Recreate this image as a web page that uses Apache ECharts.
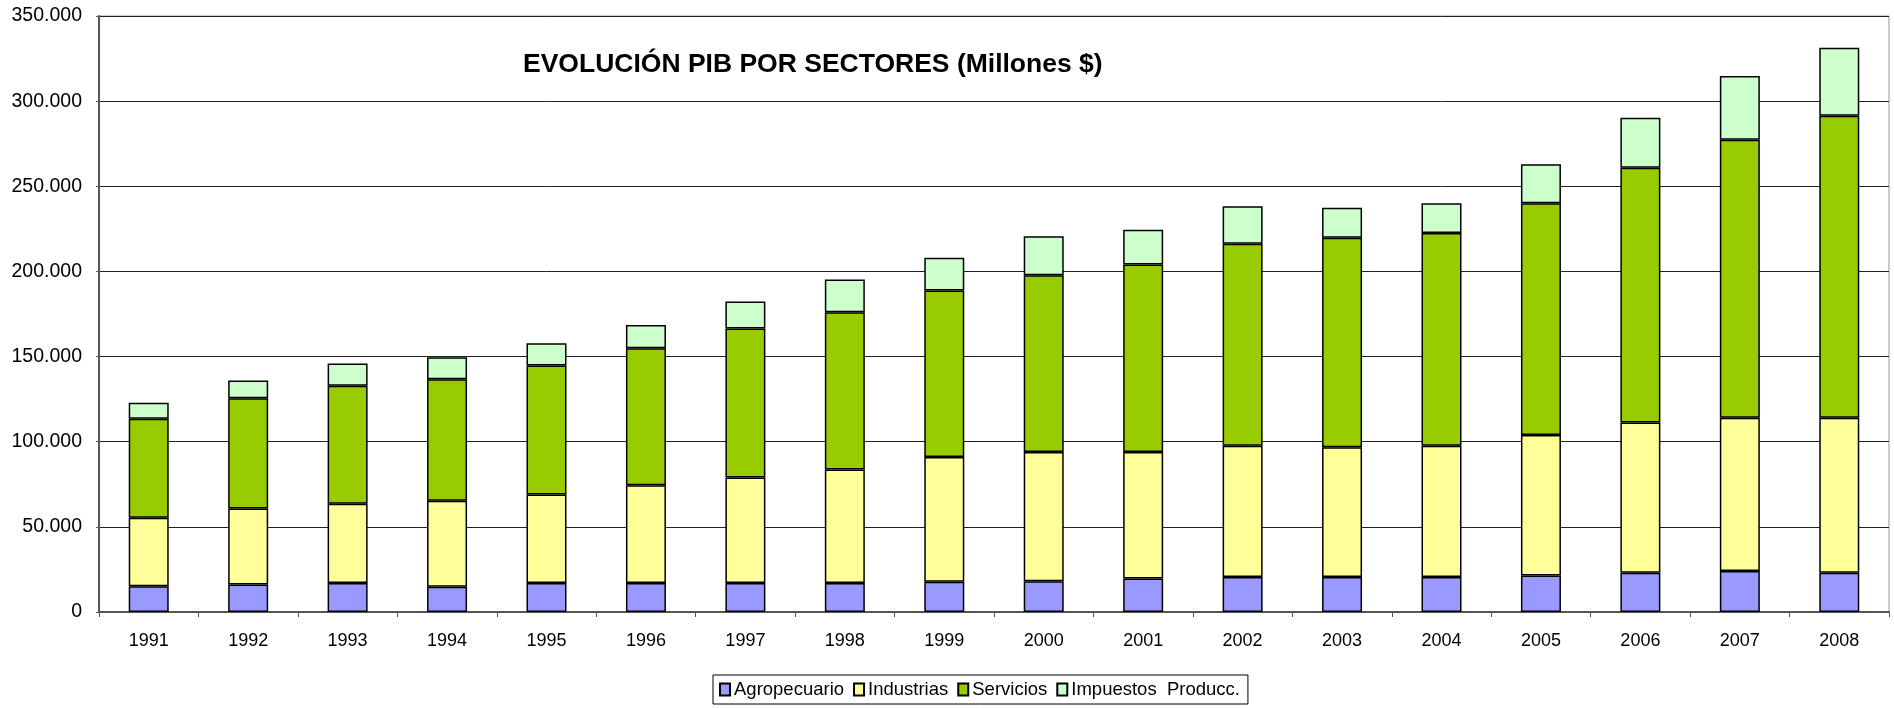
<!DOCTYPE html>
<html>
<head>
<meta charset="utf-8">
<script src="https://cdn.jsdelivr.net/npm/echarts@6/dist/echarts.min.js"></script>
<style>
  html, body { margin: 0; padding: 0; background: #fff; }
  #chart { width: 1894px; height: 708px; }
</style>
</head>
<body>
<div id="chart"></div>
<script>
const categories = ['1991','1992','1993','1994','1995','1996','1997','1998','1999','2000','2001','2002','2003','2004','2005','2006','2007','2008'];
const agropecuario = [15100,16100,17100,14900,17100,17100,17100,17100,17800,18100,19600,20600,20600,20600,21500,23100,24100,23100];
const industrias = [40200,44700,46400,50400,51900,57400,61900,66600,73200,75900,74400,77100,76200,77100,82500,88200,90000,91000];
const servicios = [58200,64700,69400,71400,75700,80400,87500,92400,97800,103700,110000,118500,123000,124900,136000,149600,163200,177300];
const impuestos = [9400,10400,13000,12900,13100,13700,15900,19200,19200,22900,20500,22100,17600,17400,23000,29400,37500,39900];
const seriesNames = ['Agropecuario','Industrias','Servicios','Impuestos  Producc.'];
const seriesColors = ['#9999FF','#FFFF99','#99CC00','#CCFFCC'];
const titleText = 'EVOLUCIÓN PIB POR SECTORES (Millones $)';

const chart = echarts.init(document.getElementById('chart'), null, { renderer: 'canvas' });
const dataSets = [agropecuario, industrias, servicios, impuestos];
const font = "'Liberation Sans', Arial, sans-serif";

chart.setOption({
  animation: false,
  backgroundColor: '#fff',
  textStyle: { fontFamily: font },
  title: {
    text: titleText,
    left: 523,
    top: 51,
    padding: 0,
    textStyle: { fontFamily: font, fontWeight: 'bold', fontSize: 26.5, color: '#000' }
  },
  legend: {
    data: seriesNames,
    left: 713,
    top: 675,
    orient: 'horizontal',
    padding: [5, 8, 5, 6],
    borderColor: '#000',
    borderWidth: 1,
    itemWidth: 10,
    itemHeight: 12,
    itemGap: 9,
    icon: 'rect',
    textStyle: { fontFamily: font, fontSize: 18.5, color: '#000', padding: [0, 0, 0, -1] }
  },
  grid: {
    left: 99, right: 5, top: 16, bottom: 96,
    show: true, borderColor: '#999', borderWidth: 1, backgroundColor: 'transparent'
  },
  xAxis: {
    type: 'category',
    data: categories,
    axisLine: { lineStyle: { color: '#555', width: 2 } },
    axisTick: { show: true, alignWithLabel: false, length: 5, lineStyle: { color: '#555', width: 1 } },
    axisLabel: { fontFamily: font, fontSize: 18, color: '#000', margin: 20 },
    splitLine: { show: false }
  },
  yAxis: {
    type: 'value',
    min: 0, max: 350000, interval: 50000,
    axisLine: { show: true, lineStyle: { color: '#555', width: 2 } },
    axisTick: { show: true, length: 3, lineStyle: { color: '#555' } },
    axisLabel: {
      fontFamily: font, fontSize: 19.5, color: '#000', margin: 17,
      formatter: v => v === 0 ? '0' : String(v).replace(/\B(?=(\d{3})+(?!\d))/g, '.')
    },
    splitLine: { show: true, lineStyle: { color: '#222', width: 1 } }
  },
  series: seriesNames.map((name, i) => ({
    name: name,
    type: 'bar',
    stack: 'total',
    data: dataSets[i],
    barWidth: 40,
    itemStyle: { color: seriesColors[i], borderColor: '#000', borderWidth: 1.5 }
  }))
});
</script>
</body>
</html>
